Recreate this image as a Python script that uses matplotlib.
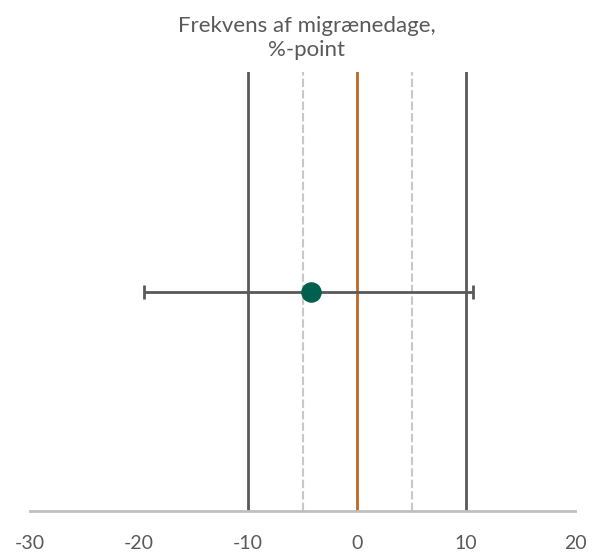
import matplotlib
matplotlib.use("Agg")
import matplotlib.pyplot as plt

# Estimate with confidence interval, %-point
estimate = [-4.2]
ci_low = [-19.5]
ci_high = [10.6]
row_pos = [0.5]

solid_refs = [-10, 10]
dashed_refs = [-5, 5]
zero_ref = 0
xticks = [-30, -20, -10, 0, 10, 20]
title = "Frekvens af migrænedage,\n%-point"

plt.rcParams["font.family"] = ["Lato", "DejaVu Sans"]

fig = plt.figure(figsize=(5.92, 5.54), dpi=100)
ax = fig.add_axes([30 / 592, 1 - 511 / 554, 545 / 592, 439 / 554])

for x in solid_refs:
    ax.axvline(x, color="#595959", lw=2, zorder=1)
for x in dashed_refs:
    ax.axvline(x, color="#c8c8c8", lw=1.5, ls=(0, (4, 1.5)), zorder=1)
ax.axvline(zero_ref, color="#c0661e", lw=2, zorder=1)

err = [[e - lo for e, lo in zip(estimate, ci_low)],
       [hi - e for e, hi in zip(estimate, ci_high)]]
ax.errorbar(estimate, row_pos, xerr=err, fmt="none", ecolor="#595959",
            elinewidth=2, capsize=5, capthick=2, zorder=2)
ax.scatter(estimate, row_pos, s=190, color="#00604f", zorder=3)

ax.set_xlim(xticks[0], xticks[-1])
ax.set_ylim(0, 1)
ax.set_xticks(xticks)
ax.set_xticklabels([str(t) for t in xticks])
ax.set_yticks([])
for s in ["top", "left", "right"]:
    ax.spines[s].set_visible(False)
ax.spines["bottom"].set_color("#bfbfbf")
ax.spines["bottom"].set_linewidth(2)
ax.tick_params(axis="x", length=0, pad=17, labelsize=14, labelcolor="#595959")

fig.text(0.518, 1 - 38 / 554, title, ha="center", va="center",
         fontsize=16, color="#595959", linespacing=1.2)

fig.savefig("out.png", dpi=100)
